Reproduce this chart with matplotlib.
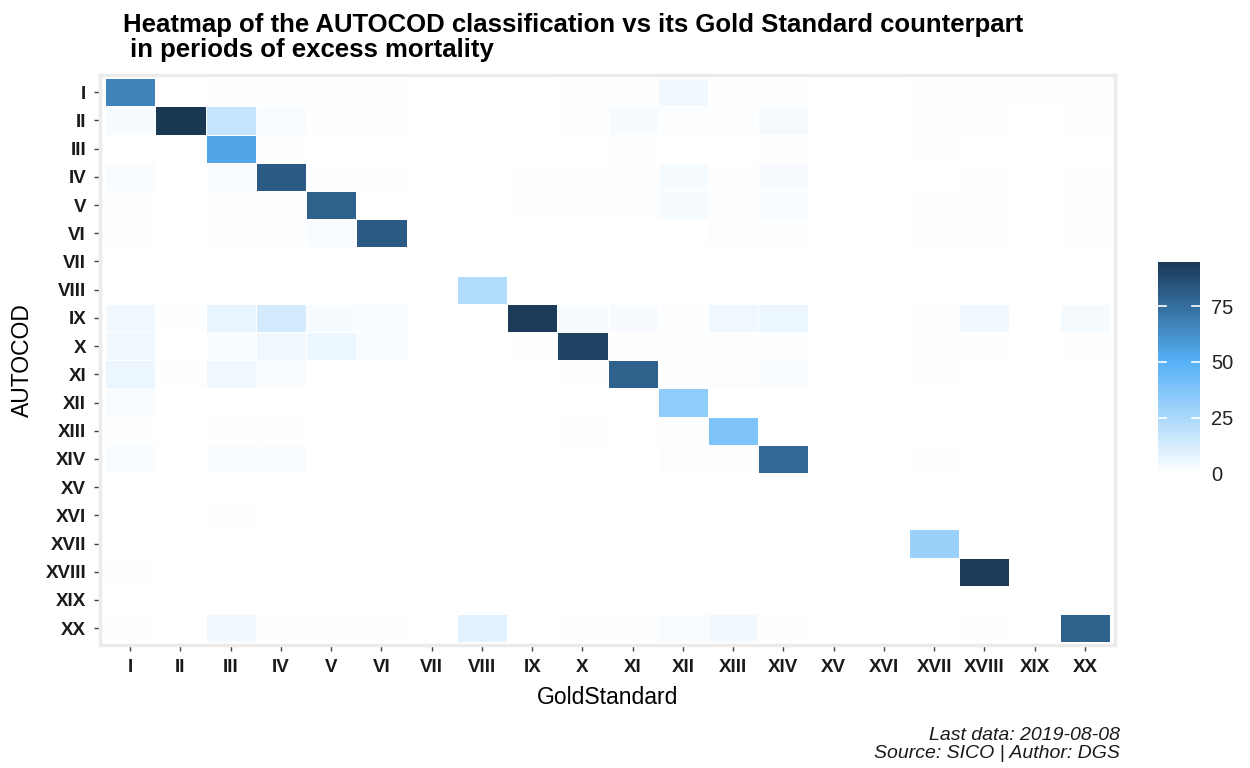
import numpy as np
import matplotlib.pyplot as plt
from matplotlib.colors import LinearSegmentedColormap

plt.rcParams['font.family'] = ['Liberation Sans', 'DejaVu Sans']

# roman numeral groups, same for both axes
groups = ["I", "II", "III", "IV", "V", "VI", "VII", "VIII", "IX", "X",
          "XI", "XII", "XIII", "XIV", "XV", "XVI", "XVII", "XVIII", "XIX", "XX"]

# rows = AUTOCOD, columns = GoldStandard (percent), 0 = no cell
autocod_vs_gold = [
    # I    II   III  IV   V    VI   VII  VIII IX   X    XI   XII  XIII XIV  XV   XVI  XVII XVIII XIX XX
    [67,  0,   0.8, 0.8, 0.8, 0.5, 0,   0,   0.3, 0.8, 1.5, 4,   1,   0.8, 0,   0,   0.5, 0.5, 0.5, 0.5],
    [3,   95,  17,  2,   0.5, 1,   0,   0,   0.3, 1.5, 3,   1.5, 1,   3.5, 0,   0,   0.5, 0.5, 0,   1],
    [0.3, 0,   54,  0.5, 0,   0,   0,   0,   0,   0,   0.5, 0,   0.3, 0.5, 0,   0,   0.5, 0.2, 0,   0],
    [2,   0,   2,   82,  1,   1,   0,   0,   0.5, 1,   0.5, 3,   0.5, 2.5, 0,   0,   0,   0.5, 0,   0.5],
    [1,   0,   1,   1,   80,  0,   0,   0,   0.5, 1,   1,   3,   1,   2,   0,   0,   1,   0.5, 0,   0.5],
    [1,   0,   1,   1,   2,   82,  0,   0,   0,   0,   0,   0,   1.5, 1,   0,   0,   1.5, 0.5, 0,   0.5],
    [0,   0,   0,   0,   0,   0,   0,   0,   0,   0,   0,   0,   0,   0,   0,   0,   0,   0,   0,   0],
    [0,   0,   0,   0,   0,   0,   0,   23,  0,   0,   0,   0,   0,   0,   0,   0,   0,   0,   0,   0],
    [4,   1,   7,   13,  3,   2,   0,   0,   94,  3,   2.5, 1.5, 5,   6,   0,   0,   1.5, 4,   0,   3.5],
    [4,   0,   2,   4,   6,   2,   0,   0,   1,   91,  0.5, 0.5, 1.5, 1.5, 0,   0,   0.5, 1,   0,   0.5],
    [6,   0.5, 5,   2,   0.3, 0.3, 0,   0,   0.3, 0.5, 80,  0.5, 1.5, 2,   0,   0,   0.5, 0.2, 0,   0.2],
    [2,   0,   0.3, 0.3, 0,   0,   0,   0,   0,   0,   0,   33,  0.2, 0,   0,   0,   0,   0,   0,   0],
    [1,   0,   0.5, 0.5, 0.2, 0,   0,   0,   0,   0.5, 0,   0.5, 38,  0,   0,   0,   0,   0,   0,   0.3],
    [2,   0,   2,   2,   0.3, 0.3, 0,   0,   0.3, 0.3, 0.3, 1.5, 0.5, 77,  0,   0,   1,   0,   0,   0],
    [0,   0,   0,   0,   0,   0,   0,   0,   0,   0,   0,   0,   0,   0,   0,   0,   0,   0,   0,   0],
    [0,   0,   0.5, 0,   0,   0,   0,   0,   0,   0,   0,   0,   0,   0,   0,   0,   0,   0,   0,   0],
    [0,   0,   0.2, 0.2, 0,   0,   0,   0,   0,   0,   0,   0,   0,   0,   0,   0,   30,  0,   0,   0],
    [0.7, 0,   0.2, 0.2, 0.2, 0.2, 0,   0,   0.2, 0.2, 0,   0,   0.3, 0,   0,   0,   0,   94,  0,   0.3],
    [0,   0,   0,   0,   0,   0,   0,   0,   0,   0,   0,   0,   0,   0,   0,   0,   0,   0,   0,   0],
    [1,   0.3, 4,   1,   0.5, 0.5, 0,   9,   0.3, 0.5, 0.5, 2,   4,   0.5, 0,   0,   0.3, 0.5, 0,   79],
]

vals = np.ma.masked_equal(np.array(autocod_vs_gold, dtype=float), 0)
# white -> light blue at 50 -> dark navy at 100
cmap = LinearSegmentedColormap.from_list("blues", [(0, "#FFFFFF"), (0.5, "#56B1F7"), (1, "#132B43")])

fig = plt.figure(figsize=(12.5, 7.68), dpi=100)
ax = fig.add_axes([0.08, 0.160, 0.812, 0.742])
edges = np.arange(len(groups) + 1) - 0.5
mesh = ax.pcolormesh(edges, edges, vals, cmap=cmap, vmin=0, vmax=100,
                     edgecolors='white', linewidth=0.6)
ax.set_xlim(-0.6, len(groups) - 0.4)
ax.set_ylim(len(groups) - 0.4, -0.6)

ax.set_xticks(range(len(groups)))
ax.set_xticklabels(groups, fontsize=13.5, fontweight='bold', color='#1a1a1a')
ax.set_yticks(range(len(groups)))
ax.set_yticklabels(groups, fontsize=13.5, fontweight='bold', color='#1a1a1a')
ax.tick_params(axis='both', length=4, width=1, color='#444444')
ax.tick_params(axis='x', pad=6)
ax.tick_params(axis='y', pad=6)
ax.set_xlabel("GoldStandard", fontsize=16.5, labelpad=7)
ax.set_ylabel("AUTOCOD", fontsize=16.5, labelpad=8)
for s in ax.spines.values():
    s.set_color('#EBEBEB')
    s.set_linewidth(2.5)

# colour bar, only up to the data maximum
cax = fig.add_axes([0.9264, 0.384, 0.0336, 0.275])
cb = fig.colorbar(mesh, cax=cax, ticks=[0, 25, 50, 75], boundaries=np.linspace(0, 95, 200))
cb.outline.set_visible(False)
cax.set_ylim(0, 95)
cax.tick_params(length=0, labelsize=14.5, pad=8, labelcolor='#222222')
for t in [25, 50, 75]:
    cax.plot([0, 0.2], [t, t], color='white', lw=1.2, transform=cax.get_yaxis_transform())
    cax.plot([0.8, 1], [t, t], color='white', lw=1.2, transform=cax.get_yaxis_transform())

fig.text(0.0985, 0.983, "Heatmap of the AUTOCOD classification vs its Gold Standard counterpart\n in periods of excess mortality",
         fontsize=18.5, fontweight='bold', va='top', ha='left', linespacing=1.05)
fig.text(0.896, 0.008, "Last data: 2019-08-08\nSource: SICO | Author: DGS",
         fontsize=14, style='italic', ha='right', va='bottom', color='#1a1a1a', linespacing=1.1)

fig.savefig("out.png", dpi=100)
